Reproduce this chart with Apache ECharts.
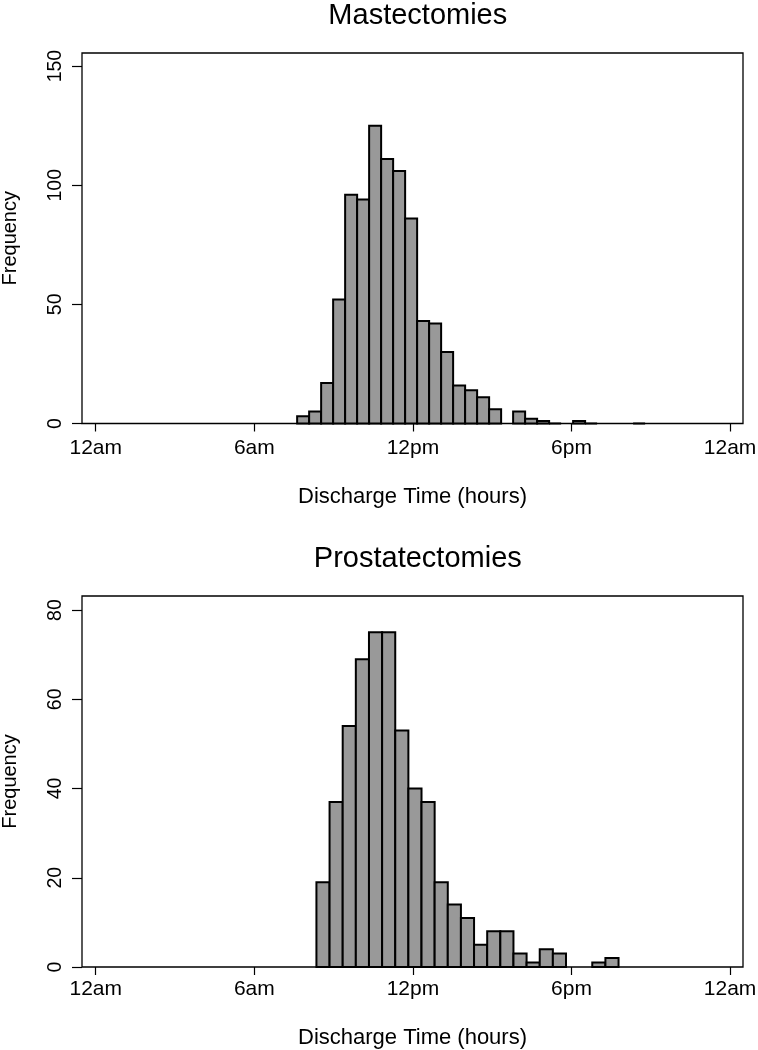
<!DOCTYPE html>
<html>
<head>
<meta charset="utf-8">
<script src="https://cdn.jsdelivr.net/npm/echarts@6/dist/echarts.min.js"></script>
<style>
html,body{margin:0;padding:0;background:#fff;}
#chart{width:758px;height:1050px;}
</style>
</head>
<body>
<div id="chart"></div>
<script>
// ---- data ----
const tickHours = [0, 6, 12, 18, 24];
const tickLabels = ['12am', '6am', '12pm', '6pm', '12am'];

// Mastectomies histogram: first bin edge (hours), bin width (hours), counts
const mastFirstEdge = 7.62;
const mastBinWidth = 0.454;
const mastCounts = [3, 5, 17, 52, 96, 94, 125, 111, 106, 86, 43, 42, 30, 16, 14, 11, 6, null, 5, 2, 1, 0, null, 1, 0, null, null, null, 0];
const mastYTicks = [0, 50, 100, 150];

// Prostatectomies histogram
const prosFirstEdge = 8.35;
const prosBinWidth = 0.497;
const prosCounts = [19, 37, 54, 69, 75, 75, 53, 40, 37, 19, 14, 11, 5, 8, 8, 3, 1, 4, 3, null, null, 1, 2];
const prosYTicks = [0, 20, 40, 60, 80];

const titles = ['Mastectomies', 'Prostatectomies'];
const xName = 'Discharge Time (hours)';
const yName = 'Frequency';

// ---- build ----
function bins(first, width, counts) {
  const out = [];
  counts.forEach((c, i) => {
    if (c === null) return;
    out.push([first + i * width, first + (i + 1) * width, c]);
  });
  return out;
}

const FONT = 'Liberation Sans, Arial, Helvetica, sans-serif';

function renderBar(params, api) {
  const a = api.coord([api.value(0), api.value(2)]);
  const b = api.coord([api.value(1), 0]);
  return {
    type: 'rect',
    shape: { x: a[0], y: a[1], width: b[0] - a[0], height: b[1] - a[1] },
    style: { fill: '#999999', stroke: '#000000', lineWidth: 2 }
  };
}

function xAxisCfg(gridIndex, labelMargin, nameGap) {
  return {
    type: 'value', gridIndex: gridIndex, min: -0.52, max: 24.49,
    axisLine: { show: false, onZero: false },
    splitLine: { show: false },
    axisTick: { show: true, length: 8, customValues: tickHours, lineStyle: { color: '#000', width: 1.2 } },
    axisLabel: {
      customValues: tickHours, margin: labelMargin,
      color: '#000', fontSize: 21, fontFamily: FONT,
      formatter: v => tickLabels[tickHours.indexOf(v)]
    },
    name: xName, nameLocation: 'middle', nameGap: nameGap, nameMoveOverlap: false,
    nameTextStyle: { color: '#000', fontSize: 22, fontFamily: FONT }
  };
}

function yAxisCfg(gridIndex, max, ticks) {
  return {
    type: 'value', gridIndex: gridIndex, min: 0, max: max,
    axisLine: { show: false, onZero: false },
    splitLine: { show: false },
    axisTick: { show: true, length: 10, customValues: ticks, lineStyle: { color: '#000', width: 1.2 } },
    axisLabel: {
      customValues: ticks, margin: 16, rotate: 90,
      color: '#000', fontSize: 19.5, fontFamily: FONT
    },
    name: yName, nameLocation: 'middle', nameGap: 62, nameRotate: 90, nameMoveOverlap: false,
    nameTextStyle: { color: '#000', fontSize: 20, fontFamily: FONT }
  };
}

const chart = echarts.init(document.getElementById('chart'), null, { renderer: 'canvas' });
chart.setOption({
  backgroundColor: '#fff',
  animation: false,
  title: [
    { text: titles[0], left: 412.8, top: -4, textAlign: 'center',
      textStyle: { color: '#000', fontSize: 29, fontWeight: 'normal', fontFamily: FONT } },
    { text: titles[1], left: 412.8, top: 539, textAlign: 'center',
      textStyle: { color: '#000', fontSize: 29, fontWeight: 'normal', fontFamily: FONT } }
  ],
  grid: [
    { left: 82, top: 53, width: 661, height: 370.5, outerBoundsMode: 'none', containLabel: false,
      show: true, borderColor: '#000', borderWidth: 1.3, backgroundColor: 'transparent' },
    { left: 82, top: 596, width: 661, height: 371, outerBoundsMode: 'none', containLabel: false,
      show: true, borderColor: '#000', borderWidth: 1.3, backgroundColor: 'transparent' }
  ],
  xAxis: [xAxisCfg(0, 14, 62), xAxisCfg(1, 12, 60)],
  yAxis: [yAxisCfg(0, 155.5, mastYTicks), yAxisCfg(1, 83.15, prosYTicks)],
  series: [
    { type: 'custom', xAxisIndex: 0, yAxisIndex: 0, renderItem: renderBar,
      encode: { x: [0, 1], y: 2 }, data: bins(mastFirstEdge, mastBinWidth, mastCounts) },
    { type: 'custom', xAxisIndex: 1, yAxisIndex: 1, renderItem: renderBar,
      encode: { x: [0, 1], y: 2 }, data: bins(prosFirstEdge, prosBinWidth, prosCounts) }
  ]
});
</script>
</body>
</html>
